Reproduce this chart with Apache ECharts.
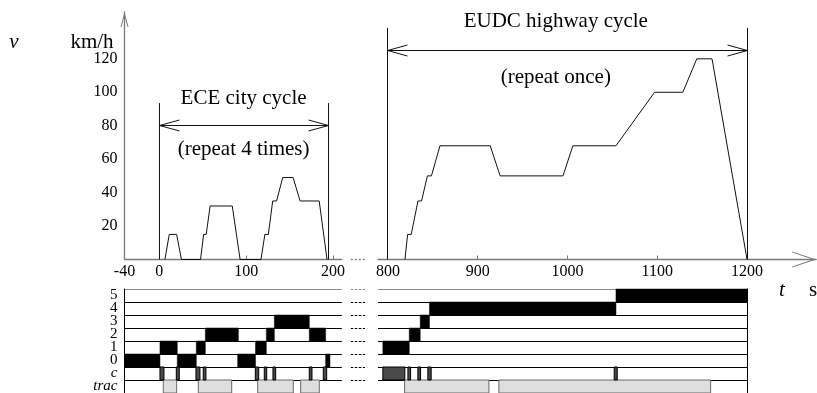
<!DOCTYPE html>
<html>
<head>
<meta charset="utf-8">
<script src="https://cdn.jsdelivr.net/npm/echarts@6/dist/echarts.min.js"></script>
<style>
  html, body { margin: 0; padding: 0; background: #fff; }
  #chart { width: 817px; height: 393px; }
</style>
</head>
<body>
<div id="chart"></div>
<script>
// NEDC speed profile: one ECE urban cycle and the EUDC extra-urban cycle
const eceTime   = [6.5, 11.5, 20, 25.5, 47.5, 51, 54, 58.5, 84, 93, 117, 121.5, 125.5, 130.5, 135, 142, 154, 162, 184, 193];
const eceSpeed  = [0, 15, 15, 0, 0, 15, 15, 32, 32, 0, 0, 15, 15, 35, 35, 49, 49, 35, 35, 0];
const eudcTime  = [819, 822, 826, 833.5, 837.5, 844, 848.5, 858, 914, 925, 995, 1006, 1054, 1097, 1128.5, 1144, 1161, 1200];
const eudcSpeed = [0, 15, 15, 35, 35, 50, 50, 68, 68, 50, 50, 68, 68, 100, 100, 120, 120, 0];

// axis tick labels
const speedTicks   = [20, 40, 60, 80, 100, 120];
const cityTicks    = [-40, 0, 100, 200];
const highwayTicks = [800, 900, 1000, 1100, 1200];

// gear, clutch and traction timelines: [start, end] in seconds
const rowNames = ['trac', 'c', '0', '1', '2', '3', '4', '5'];
const gear0 = [[-40, 0.8], [20.7, 42.6], [90.2, 110.7], [191.4, 196.4]];
const gear1 = [[0.8, 20.7], [42.6, 53], [110.7, 123.2], [794.4, 823.8]];
const gear2 = [[53, 91], [123.2, 132.4], [172.6, 191.4], [823.8, 836]];
const gear3 = [[132.4, 172.6], [836, 846.3]];
const gear4 = [[846.3, 1054]];
const gear5 = [[1054, 1200]];
const clutch = [[0.8, 5.4], [19.6, 23], [42.2, 46.8], [50.6, 53.7], [110.5, 114.4], [120.8, 123.6],
                [130.8, 133.9], [172.6, 175.7], [188.7, 192.6], [794.4, 818.9], [822.3, 825.3],
                [833.4, 836.4], [844.5, 848.2], [1052, 1055.4]];
const traction = [[4.6, 20], [44.9, 83.3], [113.2, 154.2], [162.7, 184.1], [818.6, 912.5], [923.6, 1159.4]];

// cycle spans with their captions
const cycleSpans  = [[0, 195], [800, 1200]];
const cycleTitles = ['ECE city cycle', 'EUDC highway cycle'];
const cycleNotes  = ['(repeat 4 times)', '(repeat once)'];

// ---------------------------------------------------------------- layout
const FONT = '"Liberation Serif", "Times New Roman", serif';
const AXIS_GREY = '#7a7a7a';
const speedTop = 12, speedH = 247.5;
const gearTop = 289, rowH = 13, gearH = rowH * 8;
const cityLeft = 124.5, cityW = 217.3;           // -40 .. 210 s
const hwLeft = 378, hwW = 438.2, hwGearW = 369.1; // 789 .. 1277 s / 789 .. 1200 s

// where the span arrows and captions sit (speed units / seconds)
const cycleLayout = [
  { arrowAt: 80,  lineTop: 93.5,  textAt: 97,  titleAt: 96.5, noteAt: 65.5 },
  { arrowAt: 125, lineTop: 138.5, textAt: 987, titleAt: 142.5, noteAt: 109 }
];

const snap = v => Math.round(v - 0.5) + 0.5;
const plain = v => String(v);

function cycleRenderer(k) {
  const lay = cycleLayout[k];
  return function (params, api) {
    const [t0, t1] = cycleSpans[k];
    const a = api.coord([t0, lay.arrowAt]);
    const b = api.coord([t1, lay.arrowAt]);
    const base = api.coord([t0, 0])[1];
    const top = api.coord([t0, lay.lineTop])[1];
    const x0 = snap(a[0]), x1 = snap(b[0]), y = snap(a[1]);
    const L = 20, W = 5.5;
    const title = api.coord([lay.textAt, lay.titleAt]);
    const note = api.coord([lay.textAt, lay.noteAt]);
    const st = { stroke: '#111', lineWidth: 1, fill: null };
    const txt = (s, p) => ({
      type: 'text',
      style: { text: s, x: p[0], y: p[1], align: 'center', verticalAlign: 'middle',
               font: '21px ' + FONT, fill: '#000' }
    });
    return {
      type: 'group',
      children: [
        { type: 'line', shape: { x1: x0, y1: base, x2: x0, y2: top }, style: st },
        { type: 'line', shape: { x1: x1, y1: base, x2: x1, y2: top }, style: st },
        { type: 'line', shape: { x1: x0, y1: y, x2: x1, y2: y }, style: st },
        { type: 'polyline', shape: { points: [[x0 + L, y - W], [x0, y], [x0 + L, y + W]] }, style: st },
        { type: 'polyline', shape: { points: [[x1 - L, y - W], [x1, y], [x1 - L, y + W]] }, style: st },
        txt(cycleTitles[k], title),
        txt(cycleNotes[k], note)
      ]
    };
  };
}

// gear chart blocks: [start, end, row, kind]  kind 0 gear, 1 clutch, 2 traction
function blocks(list, row, kind) { return list.map(d => [d[0], d[1], row, kind]); }
const allBlocks = [].concat(
  blocks(traction, 0, 2), blocks(clutch, 1, 1),
  blocks(gear0, 2, 0), blocks(gear1, 3, 0), blocks(gear2, 4, 0),
  blocks(gear3, 5, 0), blocks(gear4, 6, 0), blocks(gear5, 7, 0)
);
const blockStyles = [
  { fill: '#000', stroke: '#000', lineWidth: 0.5 },
  { fill: '#4a4a4a', stroke: '#000', lineWidth: 1 },
  { fill: '#dedede', stroke: '#6a6a6a', lineWidth: 1 }
];
function renderBlock(params, api) {
  const row = api.value(2);
  const s = api.coord([api.value(0), row]);
  const e = api.coord([api.value(1), row]);
  const h = api.size([0, 1])[1];
  const kind = api.value(3);
  return {
    type: 'rect',
    shape: { x: s[0], y: s[1] - h / 2, width: e[0] - s[0], height: h },
    style: blockStyles[kind]
  };
}

// open chevron arrow heads for the axis ends (pointing up in symbol space)
const yArrow = 'path://M4,0 L8,15 L7,15 L4,3.75 L1,15 L0,15 Z';
const xArrow = 'path://M8,0 L16,24 L14.9,24 L8,3.3 L1.1,24 L0,24 Z';

const rowLineColors = ['#000', '#000', '#000', '#000', '#000', '#000', '#000', '#000', '#8a8a8a'];
const rowLabel = {
  show: true, interval: 0, margin: 7, fontSize: 15, fontFamily: FONT, color: '#000', lineHeight: 13,
  formatter: v => (v === 'c' || v === 'trac') ? '{i|' + v + '}' : v,
  rich: { i: { fontStyle: 'italic', fontSize: 15, fontFamily: FONT, color: '#000' } }
};

const option = {
  animation: false,
  textStyle: { fontFamily: FONT },
  grid: [
    { left: cityLeft, top: speedTop, width: cityW, height: speedH, outerBoundsMode: 'none' },
    { left: hwLeft, top: speedTop, width: hwW, height: speedH, outerBoundsMode: 'none' },
    { left: cityLeft, top: gearTop, width: cityW, height: gearH, outerBoundsMode: 'none' },
    { left: hwLeft, top: gearTop, width: hwGearW, height: gearH, outerBoundsMode: 'none' }
  ],
  xAxis: [
    {
      gridIndex: 0, type: 'value', min: -40, max: 210,
      axisLine: { onZero: false, lineStyle: { color: AXIS_GREY, width: 1.3 } },
      axisTick: { show: true, inside: true, length: 4, customValues: [100, 200], lineStyle: { color: AXIS_GREY } },
      axisLabel: { customValues: cityTicks, formatter: plain, margin: 4, fontSize: 16, color: '#000', fontFamily: FONT },
      splitLine: { show: false }
    },
    {
      gridIndex: 1, type: 'value', min: 789, max: 1277,
      axisLine: { onZero: false, symbol: ['none', xArrow], symbolSize: [16, 24], symbolOffset: [0, -12],
                  lineStyle: { color: AXIS_GREY, width: 1.3 } },
      axisTick: { show: true, inside: true, length: 4, customValues: [900, 1000, 1100], lineStyle: { color: AXIS_GREY } },
      axisLabel: { customValues: highwayTicks, formatter: plain, margin: 4, fontSize: 16, color: '#000', fontFamily: FONT },
      splitLine: { show: false }
    },
    { gridIndex: 2, type: 'value', min: -40, max: 210, show: false },
    { gridIndex: 3, type: 'value', min: 789, max: 1200, show: false }
  ],
  yAxis: [
    {
      gridIndex: 0, type: 'value', min: 0, max: 148,
      axisLine: { show: true, onZero: false, symbol: ['none', yArrow], symbolSize: [8, 15], symbolOffset: [0, -7.5],
                  lineStyle: { color: AXIS_GREY, width: 1.3 } },
      axisTick: { show: false },
      axisLabel: { customValues: speedTicks, formatter: plain, margin: 7, fontSize: 16, color: '#000', fontFamily: FONT },
      splitLine: { show: false }
    },
    { gridIndex: 1, type: 'value', min: 0, max: 148, show: false },
    {
      gridIndex: 2, type: 'category', data: rowNames, boundaryGap: true,
      axisLine: { show: true, onZero: false, lineStyle: { color: '#000', width: 1 } },
      axisTick: { show: false, interval: 0 },
      axisLabel: rowLabel,
      splitLine: { show: true, interval: 0, lineStyle: { color: rowLineColors, width: 1 } }
    },
    {
      gridIndex: 3, type: 'category', data: rowNames, boundaryGap: true,
      axisLine: { show: false, onZero: false },
      axisTick: { show: false },
      axisLabel: { show: false },
      splitLine: { show: true, interval: 0, lineStyle: { color: rowLineColors, width: 1 } }
    },
    {
      gridIndex: 3, type: 'category', data: rowNames, position: 'right', boundaryGap: true,
      axisLine: { show: true, onZero: false, lineStyle: { color: '#000', width: 1 } },
      axisTick: { show: false }, axisLabel: { show: false }, splitLine: { show: false }
    }
  ],
  series: [
    {
      type: 'line', xAxisIndex: 0, yAxisIndex: 0, showSymbol: false, silent: true, z: 3,
      data: eceTime.map((t, i) => [t, eceSpeed[i]]),
      lineStyle: { color: '#111', width: 1 }
    },
    {
      type: 'line', xAxisIndex: 1, yAxisIndex: 1, showSymbol: false, silent: true, z: 3,
      data: eudcTime.map((t, i) => [t, eudcSpeed[i]]),
      lineStyle: { color: '#111', width: 1 }
    },
    { type: 'custom', xAxisIndex: 0, yAxisIndex: 0, silent: true, renderItem: cycleRenderer(0),
      data: [cycleSpans[0]], encode: { x: [0, 1] } },
    { type: 'custom', xAxisIndex: 1, yAxisIndex: 1, silent: true, renderItem: cycleRenderer(1),
      data: [cycleSpans[1]], encode: { x: [0, 1] } },
    { type: 'custom', xAxisIndex: 2, yAxisIndex: 2, silent: true, renderItem: renderBlock,
      data: allBlocks.filter(d => d[1] < 500), encode: { x: [0, 1], y: 2 } },
    { type: 'custom', xAxisIndex: 3, yAxisIndex: 3, silent: true, renderItem: renderBlock,
      data: allBlocks.filter(d => d[0] > 500), encode: { x: [0, 1], y: 2 } }
  ]
};

// axis titles and the dotted breaks between the two time ranges
const breakX0 = cityLeft + cityW + 9, breakX1 = hwLeft - 11;
const axisTitle = (s, x, y, italic) => ({
  type: 'text',
  style: { text: s, x: x, y: y, align: 'center', verticalAlign: 'middle',
           font: (italic ? 'italic ' : '') + '21px ' + FONT, fill: '#000' }
});
const graphics = [
  axisTitle('v', 14, 42, true),
  axisTitle('km/h', 92, 42, false),
  axisTitle('t', 782, 290, true),
  axisTitle('s', 813, 290, false),
  { type: 'line', shape: { x1: breakX0, y1: speedTop + speedH, x2: breakX1, y2: speedTop + speedH },
    style: { stroke: AXIS_GREY, lineWidth: 1.3, lineDash: [2, 2] } }
];
for (let i = 0; i < 8; i++) {
  const y = gearTop + i * rowH + 0.5;
  graphics.push({ type: 'line', shape: { x1: breakX0, y1: y, x2: breakX1 - 2, y2: y },
    style: { stroke: i === 0 ? '#8a8a8a' : '#000', lineWidth: 1, lineDash: [2.5, 1.5] } });
}
option.graphic = graphics;

const chart = echarts.init(document.getElementById('chart'), null, { renderer: 'canvas' });
chart.setOption(option);
</script>
</body>
</html>
